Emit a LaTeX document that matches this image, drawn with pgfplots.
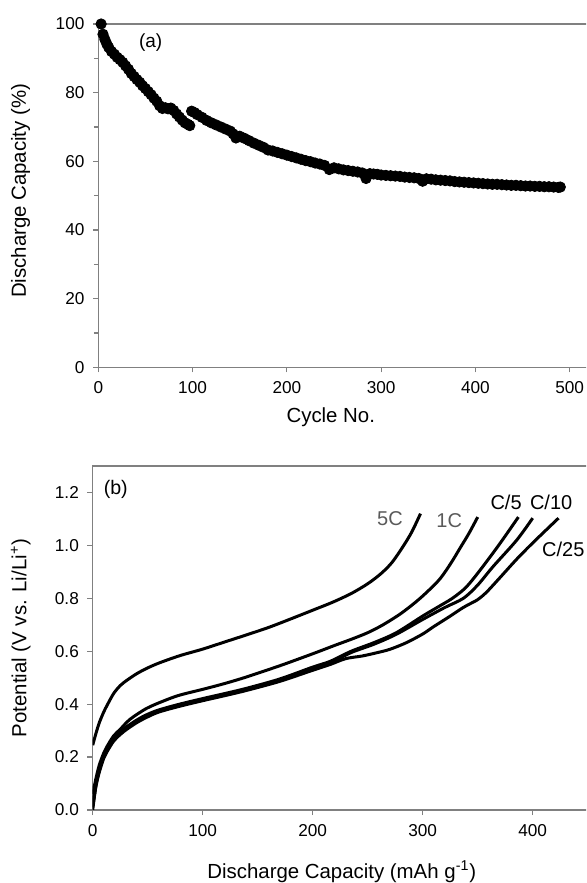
\documentclass[border=0pt]{standalone}
\usepackage{pgfplots}
\pgfplotsset{compat=1.18}
\usepackage{fontspec}
\setmainfont{Liberation Sans}
\definecolor{axisgray}{RGB}{128,128,128}
\definecolor{labgray}{RGB}{90,90,90}

\pgfplotsset{
  panel/.style={
    scale only axis,
    axis line style={axisgray, line width=0.7pt},
    every tick/.style={axisgray, line width=0.6pt},
    tick align=outside,
    major tick length=2.6pt,
    minor tick length=2.2pt,
    xtick pos=bottom, ytick pos=left,
    /pgf/number format/assume math mode=true,
    tick label style={font=\fontsize{8.6}{10}\selectfont, black},
    label style={font=\fontsize{10.2}{12}\selectfont},
    xticklabel style={yshift=-1.2pt},
    yticklabel style={xshift=-0.8pt},
  },
  curve/.style={black, no marks, line width=1.5pt, smooth, tension=0.5},
}

\begin{document}
\begin{tikzpicture}
\path[use as bounding box] (0,0) rectangle (293pt,441.5pt);
\clip (0,0) rectangle (293pt,441.5pt);

% (a) capacity retention
\begin{axis}[panel,
  at={(49.15pt,257.85pt)}, anchor=south west,
  width=282.85pt, height=171.65pt,
  xmin=0, xmax=600, ymin=0, ymax=100,
  xtick={0,100,...,500}, ytick={0,20,...,100},
  minor ytick={10,30,...,90},
  xlabel={Cycle No.},
  ylabel={Discharge Capacity (\%)},
  xlabel style={at={(axis description cs:0.411,-0.145)}, anchor=center},
  ylabel style={at={(axis description cs:-0.1375,0.514)}, anchor=center, rotate=0},
]
\addplot[only marks, mark=*, mark size=2.6pt, black] coordinates {
(3,100) (5,97.0) (7,95.5) (9,94.2) (11,93.2) (14,92.0) (17,91.2) (20,90.3)
(23,89.6) (26,88.8) (29,87.8) (32,86.8) (35,85.6) (38,84.7) (41,83.8) (44,83.0)
(47,82.0) (50,81.2) (53,80.3) (56,79.4) (59,78.4) (62,77.5) (65,76.2) (68,75.4)
(71,75.6) (74,75.3) (77,75.5) (80,74.8) (83,73.8) (86,72.9) (89,72.0) (92,71.2)
(95,70.8) (97,70.4) (99,74.6) (102,74.2) (105,73.6) (110,72.8) (115,71.9) (120,71.2)
(125,70.6) (130,70.0) (135,69.4) (140,68.8) (143,68.0) (146,66.8) (150,67.3) (155,66.7)
(160,66.0) (165,65.3) (170,64.7) (175,64.1) (180,63.3) (185,63.0) (190,62.6) (195,62.2)
(200,61.8) (205,61.4) (210,61.0) (215,60.6) (220,60.2) (225,59.9) (230,59.5) (235,59.2)
(240,58.8) (245,57.6) (250,58.1) (255,57.8) (260,57.5) (265,57.3) (270,57.1) (275,56.9)
(280,56.6) (284,55.0) (288,56.4) (292,56.3) (296,56.2) (300,56.0) (305,55.9) (310,55.8)
(315,55.7) (320,55.6) (325,55.4) (330,55.3) (335,55.2) (340,55.0) (344,54.2) (348,54.9)
(353,54.8) (358,54.6) (363,54.5) (368,54.4) (373,54.3) (378,54.1) (383,54.0) (388,53.9)
(393,53.8) (398,53.7) (403,53.6) (408,53.5) (413,53.4) (418,53.3) (423,53.3) (428,53.2)
(433,53.1) (438,53.0) (443,53.0) (448,52.9) (453,52.8) (458,52.8) (463,52.7) (468,52.7)
(473,52.6) (478,52.6) (483,52.5) (488,52.4) (490,52.5)
};
\node[font=\fontsize{9.5}{11}\selectfont] at (axis cs:55.5,94.5) {(a)};
\end{axis}

% (b) discharge profiles
\begin{axis}[panel,
  at={(46.35pt,36.5pt)}, anchor=south west,
  width=275pt, height=172pt,
  xmin=0, xmax=500, ymin=0, ymax=1.3,
  xtick={0,100,...,400}, ytick={0,0.2,...,1.2},
  yticklabel style={/pgf/number format/.cd, fixed, fixed zerofill, precision=1},
  xlabel={Discharge Capacity (mAh g\textsuperscript{-1})},
  ylabel={Potential (V vs. Li/Li\textsuperscript{+})},
  xlabel style={at={(axis description cs:0.453,-0.179)}, anchor=center},
  ylabel style={at={(axis description cs:-0.131,0.5)}, anchor=center, rotate=0},
]
% 5C
\addplot[curve] coordinates {
(0,0.245) (3,0.29) (6,0.33) (10,0.37) (13,0.395) (19,0.44) (25,0.47) (31,0.49)
(40,0.515) (49,0.535) (60,0.555) (79,0.583) (100,0.608) (120,0.635) (140,0.662)
(160,0.69) (180,0.722) (200,0.755) (218,0.785) (235,0.818) (250,0.855) (262,0.893)
(272,0.935) (282,0.995) (290,1.05) (298,1.12)
};
% 1C
\addplot[curve] coordinates {
(0,0.06) (3,0.12) (6,0.17) (10,0.215) (13,0.24) (19,0.28) (25,0.305) (34,0.343)
(49,0.384) (65,0.413) (79,0.434) (101,0.457) (120,0.478) (140,0.503) (170,0.545)
(188,0.572) (203,0.595) (220,0.622) (235,0.645) (250,0.67) (264,0.70) (280,0.742)
(294,0.787) (305,0.828) (316,0.875) (326,0.935) (334,0.99) (342,1.045) (350,1.107)
};
% C/5
\addplot[curve] coordinates {
(0,0.05) (3,0.105) (6,0.155) (10,0.205) (13,0.23) (19,0.27) (25,0.295) (31,0.315)
(40,0.34) (49,0.36) (60,0.378) (79,0.40) (101,0.422) (120,0.44) (140,0.46)
(170,0.495) (200,0.54) (216,0.562) (235,0.60) (256,0.633) (276,0.67) (300,0.733)
(315,0.77) (327,0.80) (339,0.84) (351,0.90) (369,1.0) (387,1.107)
};
% C/10
\addplot[curve] coordinates {
(0,0.0) (3,0.095) (6,0.148) (10,0.20) (13,0.225) (19,0.265) (25,0.29) (31,0.31)
(40,0.335) (49,0.355) (60,0.374) (79,0.396) (101,0.418) (120,0.436) (140,0.456)
(170,0.49) (200,0.533) (216,0.556) (235,0.595) (256,0.627) (276,0.664) (300,0.72)
(320,0.765) (337,0.80) (350,0.85) (364,0.92) (385.5,1.02) (400,1.103)
};
% C/25
\addplot[curve] coordinates {
(0,0.01) (3,0.09) (6,0.143) (10,0.195) (13,0.22) (19,0.26) (25,0.285) (31,0.305)
(40,0.33) (49,0.35) (60,0.37) (79,0.392) (101,0.414) (120,0.432) (140,0.452)
(170,0.486) (200,0.528) (216,0.55) (230,0.572) (245,0.582) (258,0.594) (270,0.607)
(285,0.632) (300,0.665) (310,0.693) (324,0.73) (336,0.763) (342,0.777) (350,0.795)
(358,0.823) (370,0.877) (385.5,0.948) (400.7,1.012) (423.5,1.103)
};
\node[font=\fontsize{9.8}{11}\selectfont] at (axis cs:21,1.21) {(b)};
\node[font=\fontsize{10}{12}\selectfont, text=labgray] at (axis cs:270.3,1.10) {5C};
\node[font=\fontsize{10}{12}\selectfont, text=labgray] at (axis cs:324.1,1.094) {1C};
\node[font=\fontsize{10}{12}\selectfont] at (axis cs:375.8,1.164) {C/5};
\node[font=\fontsize{10}{12}\selectfont] at (axis cs:416.8,1.164) {C/10};
\node[font=\fontsize{10}{12}\selectfont] at (axis cs:427.8,0.984) {C/25};
\end{axis}
\end{tikzpicture}
\end{document}
